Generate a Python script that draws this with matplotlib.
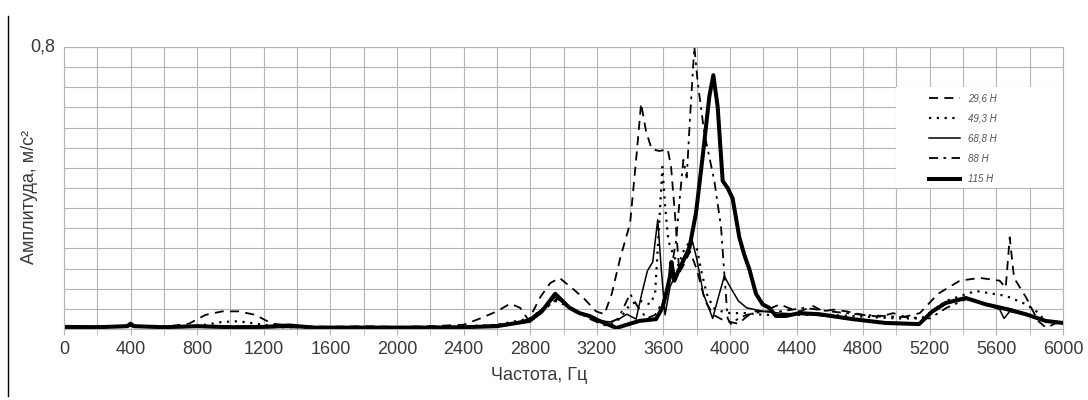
import matplotlib.pyplot as plt
from matplotlib.patches import Rectangle
from matplotlib.lines import Line2D
from matplotlib.ticker import MultipleLocator, FixedLocator, NullFormatter

plt.rcParams['font.family'] = ['Liberation Sans', 'DejaVu Sans']

# 29,6 H (штрих)
f_296 = [0, 200, 400, 600, 750, 850, 950, 1050, 1150, 1250, 1400, 1600, 1800, 2000, 2200,
         2400, 2500, 2600, 2680, 2740, 2790, 2860, 2920, 2976, 3056, 3116, 3196, 3246, 3290,
         3340, 3400, 3440, 3466, 3496, 3530, 3576, 3626, 3646, 3666, 3696, 3720, 3760, 3800,
         3850, 3900, 3960, 4000, 4050, 4100, 4150, 4200, 4300, 4350, 4420, 4500, 4560, 4620,
         4700, 4800, 4900, 4980, 5050, 5140, 5250, 5380, 5500, 5620, 5656, 5680, 5706, 5780,
         5850, 5900, 5950, 6000]
a_296 = [0.008, 0.006, 0.008, 0.006, 0.015, 0.04, 0.05, 0.05, 0.04, 0.015, 0.008, 0.006, 0.008,
         0.006, 0.008, 0.012, 0.03, 0.05, 0.072, 0.06, 0.025, 0.09, 0.13, 0.145, 0.114, 0.09,
         0.05, 0.042, 0.10, 0.2, 0.3, 0.5, 0.64, 0.56, 0.51, 0.505, 0.51, 0.46, 0.345, 0.16,
         0.18, 0.22, 0.17, 0.08, 0.04, 0.025, 0.02, 0.015, 0.035, 0.05, 0.05, 0.07, 0.06, 0.05,
         0.065, 0.05, 0.055, 0.05, 0.04, 0.035, 0.045, 0.035, 0.045, 0.10, 0.137, 0.145, 0.137,
         0.117, 0.26, 0.145, 0.088, 0.023, 0.003, 0.015, 0.02]

# 49,3 H (точки)
f_493 = [0, 400, 700, 850, 950, 1050, 1150, 1300, 1600, 2000, 2400, 2600, 2800, 2880, 2960,
         3040, 3120, 3200, 3280, 3340, 3400, 3460, 3520, 3550, 3575, 3594, 3610, 3630, 3660,
         3690, 3720, 3760, 3800, 3830, 3860, 3900, 3950, 4000, 4100, 4200, 4400, 4600, 4800,
         5000, 5150, 5300, 5476, 5656, 5780, 5840, 5900, 6000]
a_493 = [0.005, 0.008, 0.005, 0.012, 0.02, 0.022, 0.015, 0.006, 0.005, 0.005, 0.007, 0.012,
         0.03, 0.06, 0.08, 0.06, 0.04, 0.02, 0.01, 0.03, 0.07, 0.08, 0.07, 0.1, 0.3, 0.46, 0.35,
         0.25, 0.21, 0.18, 0.22, 0.25, 0.23, 0.16, 0.1, 0.06, 0.05, 0.045, 0.045, 0.04, 0.04,
         0.04, 0.035, 0.03, 0.03, 0.08, 0.108, 0.094, 0.07, 0.05, 0.02, 0.02]

# 68,8 H (тонкая)
f_688 = [0, 400, 800, 1200, 1600, 2000, 2400, 2700, 2800, 2880, 2950, 3040, 3120, 3200, 3280,
         3340, 3380, 3436, 3470, 3504, 3536, 3566, 3588, 3610, 3640, 3670, 3700, 3740, 3768,
         3800, 3840, 3896, 3930, 3966, 4000, 4050, 4100, 4200, 4300, 4500, 4700, 4900, 5136,
         5216, 5300, 5420, 5540, 5620, 5646, 5680, 5780, 5900, 6000]
a_688 = [0.005, 0.01, 0.005, 0.004, 0.005, 0.004, 0.006, 0.015, 0.03, 0.06, 0.09, 0.06, 0.04,
         0.025, 0.02, 0.03, 0.042, 0.028, 0.1, 0.165, 0.19, 0.31, 0.165, 0.04, 0.12, 0.15, 0.18,
         0.22, 0.26, 0.2, 0.1, 0.03, 0.09, 0.15, 0.12, 0.08, 0.06, 0.05, 0.045, 0.04, 0.03, 0.02,
         0.016, 0.05, 0.072, 0.085, 0.07, 0.055, 0.03, 0.05, 0.04, 0.02, 0.02]

# 88 H (штрих-пунктир)
f_88 = [0, 400, 800, 1000, 1200, 1600, 2000, 2400, 2700, 2850, 2970, 3050, 3150, 3250, 3330,
        3400, 3450, 3500, 3550, 3600, 3640, 3676, 3700, 3720, 3740, 3760, 3786, 3806, 3846,
        3906, 3946, 3966, 3986, 4006, 4050, 4100, 4200, 4300, 4450, 4600, 4800, 5000, 5200,
        5300, 5420, 5550, 5700, 5850, 6000]
a_88 = [0.004, 0.008, 0.006, 0.008, 0.005, 0.004, 0.004, 0.005, 0.012, 0.04, 0.09, 0.06, 0.03,
        0.01, 0.03, 0.1, 0.06, 0.03, 0.04, 0.08, 0.15, 0.25, 0.38, 0.48, 0.43, 0.6, 0.8, 0.70,
        0.555, 0.42, 0.29, 0.156, 0.03, 0.014, 0.03, 0.04, 0.05, 0.05, 0.06, 0.05, 0.04, 0.035,
        0.03, 0.06, 0.085, 0.07, 0.055, 0.03, 0.015]

# 115 H (жирная)
f_115 = [0, 200, 380, 400, 420, 600, 800, 1000, 1200, 1350, 1500, 1800, 2000, 2200, 2400, 2600,
         2796, 2870, 2950, 3036, 3096, 3156, 3216, 3318, 3400, 3456, 3556, 3594, 3616, 3640,
         3648, 3666, 3690, 3716, 3756, 3796, 3836, 3876, 3900, 3926, 3956, 3986, 4016, 4056,
         4086, 4116, 4156, 4196, 4236, 4276, 4336, 4416, 4536, 4736, 4936, 5136, 5216, 5296,
         5416, 5536, 5656, 5776, 5896, 6000]
a_115 = [0.006, 0.005, 0.008, 0.015, 0.008, 0.005, 0.008, 0.005, 0.006, 0.01, 0.004, 0.004,
         0.004, 0.004, 0.005, 0.008, 0.023, 0.05, 0.1, 0.06, 0.045, 0.037, 0.023, 0.003, 0.015,
         0.023, 0.028, 0.06, 0.1, 0.15, 0.19, 0.137, 0.165, 0.19, 0.23, 0.33, 0.49, 0.66, 0.72,
         0.63, 0.42, 0.40, 0.37, 0.26, 0.21, 0.17, 0.10, 0.07, 0.06, 0.037, 0.037, 0.045, 0.042,
         0.028, 0.017, 0.014, 0.05, 0.074, 0.088, 0.07, 0.057, 0.042, 0.023, 0.017]

labels = ['29,6 H', '49,3 H', '68,8 H', '88 H', '115 H']
x_ticks = list(range(0, 6001, 400))

grid_c = '#b4b4b4'
text_c = '#3a3a3a'

fig = plt.figure(figsize=(10.88, 4.0), dpi=100)
ax = fig.add_axes([64 / 1088, 1 - 329 / 400, 999 / 1088, 282 / 400])

ax.plot(f_296, a_296, color='black', lw=1.3, linestyle=(0, (5, 3.5)), label=labels[0])
ax.plot(f_493, a_493, color='black', lw=1.6, linestyle=(0, (1, 2.5)), label=labels[1])
ax.plot(f_688, a_688, color='black', lw=1.1, linestyle='-', label=labels[2])
ax.plot(f_88, a_88, color='black', lw=1.3, linestyle=(0, (5, 3, 1.5, 3)), label=labels[3])
ax.plot(f_115, a_115, color='black', lw=2.9, linestyle='-', label=labels[4])

ax.set_xlim(0, 6000)
ax.set_ylim(0, 0.8)

step = 0.8 / 14
ax.xaxis.set_major_locator(FixedLocator(x_ticks))
ax.xaxis.set_minor_locator(MultipleLocator(200))
ax.yaxis.set_major_locator(FixedLocator([step * i for i in range(15)]))
ax.yaxis.set_major_formatter(NullFormatter())
ax.set_axisbelow(True)
ax.grid(True, which='both', color=grid_c, lw=0.8)
ax.tick_params(axis='x', which='both', length=4, color=grid_c, labelsize=13,
               labelcolor=text_c, pad=5)
ax.tick_params(axis='y', which='major', length=0)
ax.yaxis.set_minor_locator(FixedLocator([0.8, step * 12]))
ax.tick_params(axis='y', which='minor', length=5, color=grid_c)
ax.text(-0.009, 0.8, '0,8', transform=ax.get_yaxis_transform(), ha='right', va='center',
        fontsize=13, color=text_c)
for s in ax.spines.values():
    s.set_color(grid_c)
    s.set_linewidth(0.8)

ax.set_xlabel('Частота, Гц', fontsize=13, color=text_c)
ax.xaxis.set_label_coords(0.476, -0.135)
ax.set_ylabel('Амплитуда, м/с²', fontsize=13, color=text_c)
ax.yaxis.set_label_coords(-0.026, 0.47)

# белая подложка под легенду
ax.add_patch(Rectangle((5000, step * 7), 1000, step * 5, facecolor='white',
                       edgecolor='none', zorder=1))
leg = ax.legend(loc='center', bbox_to_anchor=(5400, 0.54), bbox_transform=ax.transData,
                frameon=False, handlelength=3.2, labelspacing=1.05, handletextpad=0.8,
                prop={'size': 7, 'style': 'italic'})
for t in leg.get_texts():
    t.set_color('#555555')

fig.add_artist(Line2D([8 / 1088, 8 / 1088], [0.01, 0.96], color='black', lw=1.0))

plt.savefig('out.png', dpi=100)
